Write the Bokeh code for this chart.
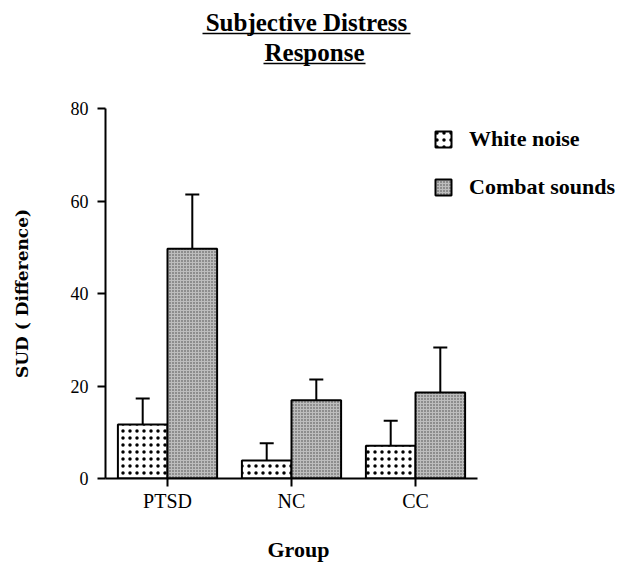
from bokeh.plotting import figure
from bokeh.models import (Range1d, FixedTicker, Whisker, TeeHead, Title,
                          Legend, LegendItem, ColumnDataSource)
from bokeh.transform import dodge
from bokeh.layouts import column
from bokeh.core.properties import value
from bokeh.embed import file_html
from bokeh.resources import INLINE

# ---- data ----
groups = ["PTSD", "NC", "CC"]
series = ["White noise", "Combat sounds"]
white_noise = [11.7, 3.9, 7.1]
white_noise_err = [5.6, 3.7, 5.4]
combat_sounds = [49.7, 16.9, 18.6]
combat_sounds_err = [11.7, 4.5, 9.7]
y_ticks = [0, 20, 40, 60, 80]
title_lines = ["Subjective Distress", "Response"]
x_label = "Group"
y_label = "SUD ( Difference)"

SERIF = "Liberation Serif"
LEFT = 105          # left border (px)
FRAME_W = 519       # frame width (px)
GROUP_W = 124       # width of one category slot (px)

group_pos = [i + 0.5 for i in range(len(groups))]   # category slots
src = ColumnDataSource(dict(
    pos=group_pos,
    wn=white_noise,
    wn_hi=[v + e for v, e in zip(white_noise, white_noise_err)],
    cs=combat_sounds,
    cs_hi=[v + e for v, e in zip(combat_sounds, combat_sounds_err)],
))

# ---- title figure (pixel coordinates, y downward) ----
t = figure(x_range=Range1d(LEFT, LEFT + FRAME_W), y_range=Range1d(70, 0),
           frame_width=FRAME_W, frame_height=70,
           min_border_left=LEFT, min_border_right=0, min_border_top=0, min_border_bottom=0,
           x_axis_type=None, y_axis_type=None,
           output_backend="svg", toolbar_location=None)
t.xgrid.grid_line_color = None
t.ygrid.grid_line_color = None
t.outline_line_color = None
t.text(x=[306, 314], y=[22, 52], text=title_lines, text_align="center",
       text_baseline="middle", text_font=value(SERIF), text_font_style="bold",
       text_font_size="25px", text_color="black")
t.segment(x0=[202, 263], y0=[33, 63], x1=[410, 365], y1=[33, 63],
          line_color="black", line_width=1.6)

# ---- main chart ----
p = figure(x_range=Range1d(0, FRAME_W / GROUP_W), y_range=Range1d(0, 80),
           frame_width=FRAME_W, frame_height=370,
           min_border_left=LEFT, min_border_right=0, min_border_top=38, min_border_bottom=89,
           output_backend="svg", toolbar_location=None)

r1 = p.vbar(x=dodge("pos", -0.2), top="wn", width=0.4, source=src,
            fill_color="white", line_color="black", line_width=2,
            hatch_pattern="dot", hatch_scale=7, hatch_weight=1.0, hatch_color="black")
r2 = p.vbar(x=dodge("pos", 0.2), top="cs", width=0.4, source=src,
            fill_color="#bdbdbd", line_color="black", line_width=2,
            hatch_pattern="dot", hatch_scale=3, hatch_weight=1.0, hatch_color="#444444")

for off, lo, hi in [(-0.2, "wn", "wn_hi"), (0.2, "cs", "cs_hi")]:
    p.add_layout(Whisker(source=src, base=dodge("pos", off),
                         lower=lo, upper=hi, dimension="height",
                         line_color="black", line_width=2,
                         upper_head=TeeHead(size=14, line_width=2, line_color="black"),
                         lower_head=None))

legend = Legend(items=[LegendItem(label=series[0], renderers=[r1]),
                       LegendItem(label=series[1], renderers=[r2])],
                location=(328, 278), orientation="vertical",
                glyph_width=20, glyph_height=20, label_standoff=16, spacing=22,
                padding=0, margin=0, border_line_color=None, background_fill_alpha=0,
                label_text_font=SERIF, label_text_font_style="bold",
                label_text_font_size="22px", label_text_color="black")
p.add_layout(legend)

p.xgrid.grid_line_color = None
p.ygrid.grid_line_color = None
p.outline_line_color = None

for ax in (p.xaxis[0], p.yaxis[0]):
    ax.axis_line_width = 2
    ax.axis_line_color = "black"
    ax.major_tick_line_width = 2
    ax.major_tick_line_color = "black"
    ax.major_tick_out = 8
    ax.major_tick_in = 0
    ax.minor_tick_line_color = None
    ax.major_label_text_font = SERIF
    ax.major_label_text_color = "black"
    ax.axis_label_text_color = "black"

p.xaxis.bounds = (0, len(groups))
p.xaxis.ticker = FixedTicker(ticks=group_pos)
p.xaxis.major_label_overrides = {pos: g for pos, g in zip(group_pos, groups)}
p.xaxis.major_label_text_font_size = "20px"
p.xaxis.major_label_standoff = 3

p.add_layout(Title(text=x_label, align="left", offset=162, standoff=40,
                   text_font=SERIF, text_font_style="bold", text_font_size="22px",
                   text_color="black"), "below")

p.yaxis.ticker = FixedTicker(ticks=y_ticks)
p.yaxis.major_label_text_font_size = "18px"
p.yaxis.major_label_standoff = 9
p.yaxis.axis_label = y_label
p.yaxis.axis_label_text_font = "DejaVu Serif"
p.yaxis.axis_label_text_font_style = "bold"
p.yaxis.axis_label_text_font_size = "17px"
p.yaxis.axis_label_standoff = 36

layout = column(t, p, spacing=0)
open("out.html", "w").write(file_html(layout, INLINE))
